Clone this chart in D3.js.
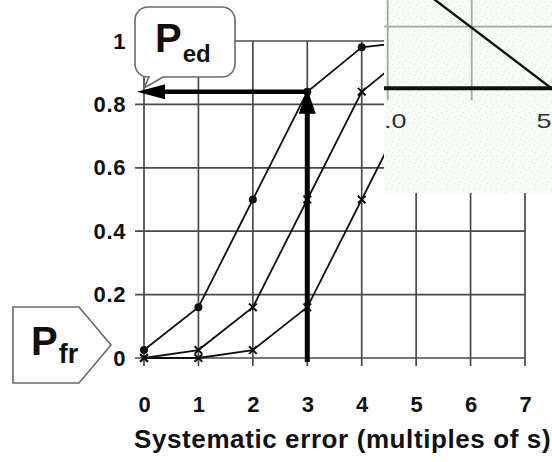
<!DOCTYPE html>
<html>
<head>
<meta charset="utf-8">
<script src="https://cdn.jsdelivr.net/npm/d3@7"></script>
<style>
  html, body { margin: 0; padding: 0; background: #fff; }
  svg { display: block; }
  text { font-family: "Liberation Sans", Arial, Helvetica, sans-serif; }
</style>
</head>
<body>
<svg id="chart" width="552" height="462"></svg>
<script>
// Systematic error, in multiples of s
const errorSteps = [0, 1, 2, 3, 4, 5, 6, 7];
// Probability of error detection for three control rules
const rejectA = [0.025, 0.16, 0.50, 0.84, 0.98, 1.00, 1.00, 1.00];
const rejectB = [0.00, 0.025, 0.16, 0.50, 0.84, 0.98, 1.00, 1.00];
const rejectC = [0.00, 0.00, 0.025, 0.16, 0.50, 0.84, 0.98, 1.00];
const yTicks = [0, 0.2, 0.4, 0.6, 0.8, 1];
const yTickLabels = ["0", "0.2", "0.4", "0.6", "0.8", "1"];
const xTickLabels = ["0", "1", "2", "3", "4", "5", "6", "7"];
const xTitle = "Systematic error (multiples of s)";
// Reading taken off the first curve
const readAt = 3;
const readValue = 0.84;

// Small chart laid over the upper right corner
const insetGrid = [0, 1, 2];
const insetGridY = [1];
const insetLine = [[0.5, 1.5], [1.95, 0]];
const insetLabels = ["1.0", "5"];
const insetLabelPos = [0, 1.95];

const svg = d3.select("#chart");
const x = d3.scaleLinear().domain([0, 7]).range([144, 525]);
const y = d3.scaleLinear().domain([0, 1]).range([358, 41]);

// Grid
const grid = svg.append("g").attr("stroke", "#4a4a4a").attr("stroke-width", 1.7);
grid.selectAll("line.v").data(errorSteps).join("line")
  .attr("class", "v")
  .attr("x1", d => x(d)).attr("x2", d => x(d))
  .attr("y1", y(1)).attr("y2", y(0) + 8);
grid.selectAll("line.h").data(yTicks).join("line")
  .attr("class", "h")
  .attr("x1", x(0) - 9).attr("x2", x(7))
  .attr("y1", d => y(d)).attr("y2", d => y(d));

// Axes labels (drawn as axes without domain/tick lines)
const fontTick = 22;
const yAxis = d3.axisLeft(y).tickValues(yTicks).tickFormat((d, i) => yTickLabels[i]).tickSize(0).tickPadding(0);
const gy = svg.append("g").attr("transform", `translate(${x(0) - 18},0)`).call(yAxis);
gy.select(".domain").remove();
gy.selectAll("text")
  .attr("font-family", "Liberation Sans, Arial, sans-serif")
  .attr("font-size", fontTick).attr("font-weight", "bold")
  .attr("fill", "#111").attr("letter-spacing", 0.6);

const xAxis = d3.axisBottom(x).tickValues(errorSteps).tickFormat((d, i) => xTickLabels[i]).tickSize(0).tickPadding(0);
const gx = svg.append("g").attr("transform", `translate(0,${y(0)})`).call(xAxis);
gx.select(".domain").remove();
gx.selectAll("text")
  .attr("y", 0).attr("dy", 0)
  .attr("transform", "translate(0,54)")
  .attr("font-family", "Liberation Sans, Arial, sans-serif")
  .attr("font-size", fontTick).attr("font-weight", "bold")
  .attr("fill", "#111");

svg.append("text")
  .attr("x", 134).attr("y", 448)
  .attr("font-size", 26).attr("font-weight", "bold")
  .attr("letter-spacing", 0.6)
  .attr("fill", "#111")
  .text(xTitle);

// Curves
const line = d3.line().x((d, i) => x(errorSteps[i])).y(d => y(d));
const series = [
  { values: rejectA, marker: "dot" },
  { values: rejectB, marker: "x" },
  { values: rejectC, marker: "x" }
];
const curves = svg.append("g");
series.forEach(s => {
  curves.append("path")
    .attr("d", line(s.values))
    .attr("fill", "none").attr("stroke", "#111").attr("stroke-width", 1.8);
  const pts = curves.append("g").selectAll("path").data(s.values).join("path")
    .attr("transform", (d, i) => `translate(${x(errorSteps[i])},${y(d)})`);
  if (s.marker === "dot") {
    pts.attr("d", d3.symbol(d3.symbolCircle, 50)()).attr("fill", "#111");
  } else {
    pts.attr("d", d3.symbol(d3.symbolX, 40)()).attr("fill", "none")
      .attr("stroke", "#111").attr("stroke-width", 2);
  }
});

// Reading arrows: up from the axis to the curve, then left to the y axis
const ax = x(readAt), ay = y(readValue);
const arrows = svg.append("g").attr("fill", "#000").attr("stroke", "#000");
arrows.append("line")
  .attr("x1", ax).attr("x2", ax).attr("y1", y(0) + 4).attr("y2", ay + 20)
  .attr("stroke-width", 5);
arrows.append("path")
  .attr("d", `M${ax},${ay - 3} L${ax + 8.5},${ay + 22} L${ax - 8.5},${ay + 22} Z`)
  .attr("stroke", "none");
arrows.append("line")
  .attr("x1", ax).attr("x2", x(0) + 16).attr("y1", ay).attr("y2", ay)
  .attr("stroke-width", 4.5);
arrows.append("path")
  .attr("d", `M${x(0) - 7},${ay} L${x(0) + 21},${ay - 7.5} L${x(0) + 21},${ay + 7.5} Z`)
  .attr("stroke", "none");

// Speech bubble label for the detection probability
const bx0 = 135, by0 = 7, bx1 = 235, by1 = 77, r = 13;
const bubble = d3.path();
bubble.moveTo(bx0 + r, by0);
bubble.lineTo(bx1 - r, by0);
bubble.arcTo(bx1, by0, bx1, by0 + r, r);
bubble.lineTo(bx1, by1 - r);
bubble.arcTo(bx1, by1, bx1 - r, by1, r);
bubble.lineTo(163, by1);
bubble.lineTo(144, 88);
bubble.lineTo(149, by1);
bubble.lineTo(bx0 + r, by1);
bubble.arcTo(bx0, by1, bx0, by1 - r, r);
bubble.lineTo(bx0, by0 + r);
bubble.arcTo(bx0, by0, bx0 + r, by0, r);
bubble.closePath();
svg.append("path").attr("d", bubble.toString())
  .attr("fill", "#fff").attr("stroke", "#6a6a6a").attr("stroke-width", 1.6);
const ped = svg.append("text").attr("x", 155).attr("y", 52).attr("fill", "#111").attr("font-weight", "bold");
ped.append("tspan").attr("font-size", 40).text("P");
ped.append("tspan").attr("font-size", 24).attr("dx", 1).attr("dy", 10).text("ed");

// Pentagon label for the false rejection probability
svg.append("path")
  .attr("d", "M13,307 L79,307 L111,345 L79,383 L13,383 Z")
  .attr("fill", "#fff").attr("stroke", "#6a6a6a").attr("stroke-width", 1.6);
const pfr = svg.append("text").attr("x", 31).attr("y", 355).attr("fill", "#111").attr("font-weight", "bold");
pfr.append("tspan").attr("font-size", 40).text("P");
pfr.append("tspan").attr("font-size", 27).attr("dx", 1).attr("dy", 8).text("fr");

// Inset chart
const ix = d3.scaleLinear().domain([0, 2]).range([387.7, 555.7]);
const iy = d3.scaleLinear().domain([0, 1]).range([88.3, 26.7]);
const defs = svg.append("defs");
defs.append("clipPath").attr("id", "insetClip")
  .append("rect").attr("x", 384).attr("y", 0).attr("width", 168).attr("height", 193);
const pat = defs.append("pattern").attr("id", "speckle")
  .attr("patternUnits", "userSpaceOnUse").attr("width", 11).attr("height", 11);
pat.append("rect").attr("width", 11).attr("height", 11).attr("fill", "#f6fbf6");
[[1, 2], [6, 1], [3, 7], [9, 5], [7, 9]].forEach(([px, py]) =>
  pat.append("rect").attr("x", px).attr("y", py).attr("width", 1).attr("height", 1).attr("fill", "#dde3e8"));

const inset = svg.append("g").attr("clip-path", "url(#insetClip)");
inset.append("rect").attr("x", 384).attr("y", 0).attr("width", 168).attr("height", 193)
  .attr("fill", "url(#speckle)");
inset.selectAll("line.ig").data(insetGrid).join("line")
  .attr("class", "ig")
  .attr("x1", d => ix(d)).attr("x2", d => ix(d))
  .attr("y1", 0).attr("y2", iy(0) + 12)
  .attr("stroke", "#a3aaa5").attr("stroke-width", 1.8);
inset.selectAll("line.igy").data(insetGridY).join("line")
  .attr("class", "igy")
  .attr("x1", 384).attr("x2", 552)
  .attr("y1", d => iy(d)).attr("y2", d => iy(d))
  .attr("stroke", "#a3aaa5").attr("stroke-width", 1.8);
inset.append("line")
  .attr("x1", 384).attr("x2", 552).attr("y1", iy(0)).attr("y2", iy(0))
  .attr("stroke", "#111").attr("stroke-width", 4);
inset.append("path")
  .attr("d", d3.line().x(d => ix(d[0])).y(d => iy(d[1]))(insetLine))
  .attr("fill", "none").attr("stroke", "#111").attr("stroke-width", 2.4);
inset.selectAll("text").data(insetLabels).join("text")
  .attr("transform", (d, i) => `translate(${ix(insetLabelPos[i])},128) scale(1.35,1)`)
  .attr("text-anchor", (d, i) => i === 0 ? "middle" : "end")
  .attr("font-size", 20).attr("fill", "#333")
  .text(d => d);
</script>
</body>
</html>
